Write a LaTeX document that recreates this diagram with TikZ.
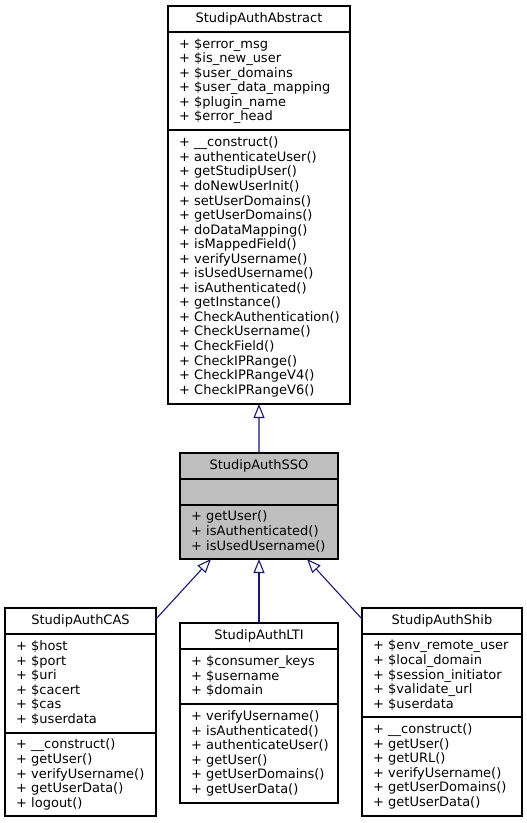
\documentclass[tikz,border=0pt]{standalone}
\usepackage{fontspec}
\setmainfont{DejaVu Sans}
\usetikzlibrary{arrows.meta}
\definecolor{edgeblue}{HTML}{191970}
\definecolor{grey75}{HTML}{BFBFBF}
\newcommand\umlstrut{\rule[-3bp]{0pt}{13bp}}
\hyphenpenalty=10000

\begin{document}
\begin{tikzpicture}[x=1bp,y=-1bp,
    part/.style={draw=black,line width=1.1bp,fill=white,anchor=north west,
      inner xsep=11bp,inner ysep=0pt,outer sep=0pt,align=left,
      font=\fontsize{13bp}{14.55bp}\selectfont,
      execute at begin node=\umlstrut,execute at end node=\umlstrut},
    head/.style={part,align=center},
    current/.style={fill=grey75},
    inherit/.style={draw=edgeblue,line width=1.1bp,-{Triangle[open,length=14bp,width=11bp]}}]
    \useasboundingbox (0,0) rectangle (527,823);
    % StudipAuthAbstract
    \node[head,text width=160bp,minimum width=182bp,minimum height=26bp] (absT) at (168,6) {StudipAuthAbstract};
    \node[part,text width=160bp,minimum width=182bp,minimum height=98bp] (absA) at (168,32)
    {+~\$error\_msg\\+~\$is\_new\_user\\+~\$user\_domains\\+~\$user\_data\_mapping\\+~\$plugin\_name\\+~\$error\_head};
    \node[part,text width=160bp,minimum width=182bp,minimum height=274bp] (absM) at (168,130)
    {+~\_\_construct()\\+~authenticateUser()\\+~getStudipUser()\\+~doNewUserInit()\\+~setUserDomains()\\
     +~getUserDomains()\\+~doDataMapping()\\+~isMappedField()\\+~verifyUsername()\\+~isUsedUsername()\\
     +~isAuthenticated()\\+~getInstance()\\+~CheckAuthentication()\\+~CheckUsername()\\+~CheckField()\\
     +~CheckIPRange()\\+~CheckIPRangeV4()\\+~CheckIPRangeV6()};
    % StudipAuthSSO
    \node[head,current,text width=136bp,minimum width=158bp,minimum height=26bp] (ssoT) at (180,453) {StudipAuthSSO};
    \node[part,current,text width=136bp,minimum width=158bp,minimum height=26bp] (ssoA) at (180,479) {};
    \node[part,current,text width=136bp,minimum width=158bp,minimum height=54bp] (ssoM) at (180,505)
    {+~getUser()\\+~isAuthenticated()\\+~isUsedUsername()};
    % StudipAuthCAS
    \node[head,text width=129bp,minimum width=151bp,minimum height=26bp] (casT) at (5,608) {StudipAuthCAS};
    \node[part,text width=129bp,minimum width=151bp,minimum height=99bp] (casA) at (5,634)
    {+~\$host\\+~\$port\\+~\$uri\\+~\$cacert\\+~\$cas\\+~\$userdata};
    \node[part,text width=129bp,minimum width=151bp,minimum height=83bp] (casM) at (5,733)
    {+~\_\_construct()\\+~getUser()\\+~verifyUsername()\\+~getUserData()\\+~logout()};
    % StudipAuthLTI
    \node[head,text width=136bp,minimum width=158bp,minimum height=26bp] (ltiT) at (180,623) {StudipAuthLTI};
    \node[part,text width=136bp,minimum width=158bp,minimum height=55bp] (ltiA) at (180,649)
    {+~\$consumer\_keys\\+~\$username\\+~\$domain};
    \node[part,text width=136bp,minimum width=158bp,minimum height=99bp] (ltiM) at (180,704)
    {+~verifyUsername()\\+~isAuthenticated()\\+~authenticateUser()\\+~getUser()\\+~getUserDomains()\\+~getUserData()};
    % StudipAuthShib
    \node[head,text width=138bp,minimum width=160bp,minimum height=26bp] (shibT) at (362,608) {StudipAuthShib};
    \node[part,text width=138bp,minimum width=160bp,minimum height=83bp] (shibA) at (362,634)
    {+~\$env\_remote\_user\\+~\$local\_domain\\+~\$session\_initiator\\+~\$validate\_url\\+~\$userdata};
    \node[part,text width=138bp,minimum width=160bp,minimum height=99bp] (shibM) at (362,717)
    {+~\_\_construct()\\+~getUser()\\+~getURL()\\+~verifyUsername()\\+~getUserDomains()\\+~getUserData()};
    % inheritance
    \draw[inherit] (ssoT.north) -- (absM.south);
    \draw[inherit] ([yshift=-11bp]casT.north east) -- ([xshift=-48bp]ssoM.south);
    \draw[inherit] (ltiT.north) -- (ssoM.south);
    \draw[inherit] ([yshift=-11bp]shibT.north west) -- ([xshift=48bp]ssoM.south);
\end{tikzpicture}
\end{document}
